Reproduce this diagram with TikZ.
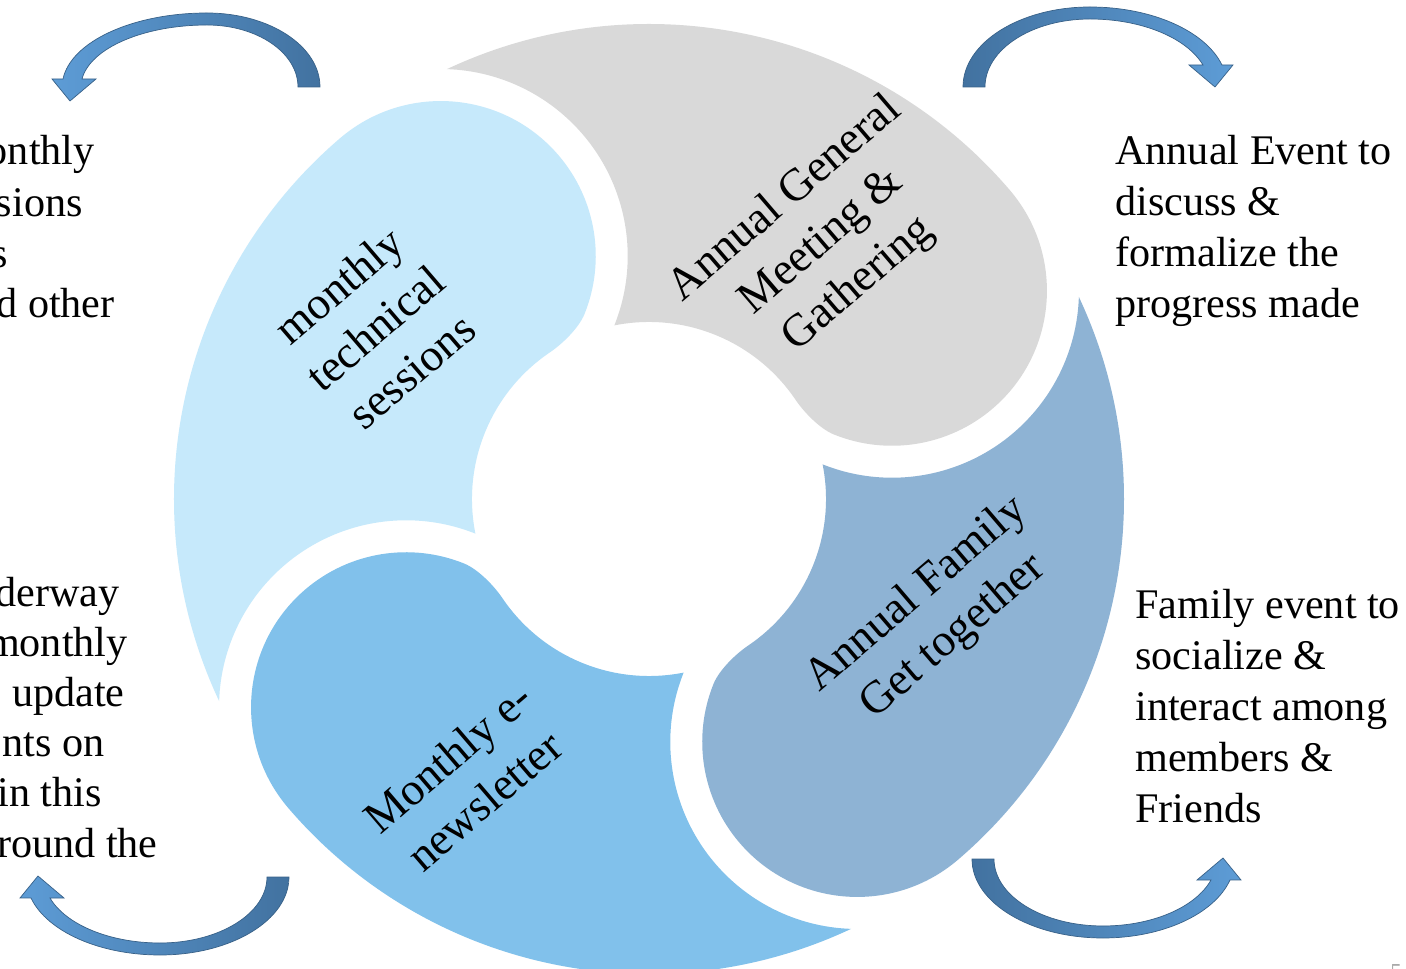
\documentclass[tikz,border=0pt]{standalone}
\usepackage{fontspec}
\setmainfont{Liberation Serif}
\definecolor{pLight}{RGB}{198,233,251}
\definecolor{pGray}{RGB}{217,217,217}
\definecolor{pSteel}{RGB}{142,179,212}
\definecolor{pMid}{RGB}{129,193,235}
\definecolor{armdark}{RGB}{66,114,160}
\definecolor{armlight}{RGB}{93,156,214}
% one petal: tail tip -> outer rim -> head -> (fillet) -> inner hole -> gap to next head
\newcommand{\petalpath}{(205.18:475) arc[start angle=205.18,end angle=130.6,radius=475]
  arc[start angle=130.6,end angle=-22,radius=155]
  .. controls (-70.2,171.0) and (-86.6,155.1) .. (-99.0,146.7)
  arc[start angle=124,end angle=191.27,radius=177]
  arc[start angle=68.22,end angle=178.1,radius=187] -- cycle}
% curved block arrow: #1 peak u, #2 peak height, #3 head base height, #4 tip u
\newcommand{\arrowpath}[4]{(0,0) arc[start angle=180,end angle=90,x radius=#1,y radius=#2]
  arc[start angle=90,end angle={asin(#3/#2)},x radius={(#4+7-#1)/cos(asin(#3/#2))},y radius=#2]
  -- ++(11,0) -- (#4,{#3-22}) -- ({#4-26},#3) -- ({#4-12},#3)
  arc[start angle={asin(#3/(#2-12))},end angle=90,x radius={(#4-12-#1)/cos(asin(#3/(#2-12)))},y radius={#2-12}]
  arc[start angle=90,end angle=180,x radius={#1-22},y radius={#2-12}] -- cycle}
\begin{document}
\begin{tikzpicture}[x=0.02cm,y=0.02cm,
  sidetext/.style={font=\fontsize{24}{29}\selectfont, inner sep=0, align=left, anchor=west},
  frag/.style={font=\fontsize{24}{29}\selectfont, inner sep=0, anchor=base east},
  petaltext/.style={font=\fontsize{26}{32}\selectfont, align=center, rotate=40.6, inner sep=0},
  bentarrow/.style={draw=armdark!85!black, line width=0.4pt}]
\useasboundingbox (-649,-470) rectangle (757,499);
\fill[white] (-649,-470) rectangle (757,499);
% petals
\fill[pLight] \petalpath;
\begin{scope}[rotate=-90]\fill[pGray] \petalpath;\end{scope}
\begin{scope}[rotate=-180]\fill[pSteel] \petalpath;\end{scope}
\begin{scope}[rotate=-270]\fill[pMid] \petalpath;\end{scope}
% petal labels
\node[petaltext] (t1) at (-274,171) {monthly\\technical\\sessions};
\node[petaltext] (t2) at (173,257) {Annual General\\Meeting \&\\Gathering};
\node[petaltext] (t3) at (286,-117) {Annual Family\\Get together};
\node[petaltext] (t4) at (-183,-280) {Monthly e-\\newsletter};
% right texts
\node[sidetext] (r1) at (466,268) {Annual Event to\\discuss \&\\formalize the\\progress made};
\node[sidetext] (r2) at (486,-207) {Family event to\\socialize \&\\interact among\\members \&\\Friends};
% left fragments (cut by the page edge)
\node[frag] (l1) at (-554,334) {onthly};
\node[frag] (l2) at (-566,282) {sions};
\node[frag] (l3) at (-641,231) {s};
\node[frag] (l4) at (-534,181) {d other};
\node[frag] (l5) at (-529,-108) {derway};
\node[frag] (l6) at (-521,-158) {monthly};
\node[frag] (l7) at (-524,-208) {update};
\node[frag] (l8) at (-544,-258) {nts on};
\node[frag] (l9) at (-547,-308) {in this};
\node[frag] (l10) at (-491,-358) {round the};
% page number sliver
\node[font=\fontsize{13}{15}\selectfont, text=gray!70, anchor=north west, inner sep=0] (pg) at (741,-465) {5};
% curved arrows
\begin{scope}[shift={(314,412)}]
  \path[bentarrow, left color=armdark, right color=armlight] \arrowpath{127}{80}{22}{252};
\end{scope}
\begin{scope}[shift={(-329,412)}, xscale=-1]
  \path[bentarrow, left color=armlight, right color=armdark] \arrowpath{113}{74}{8}{250};
\end{scope}
\begin{scope}[shift={(-360,-378)}, xscale=-1, yscale=-1]
  \path[bentarrow, left color=armlight, right color=armdark] \arrowpath{129}{78}{21}{251};
\end{scope}
\begin{scope}[shift={(323,-360)}, yscale=-1]
  \path[bentarrow, left color=armdark, right color=armlight] \arrowpath{131}{79}{21}{251};
\end{scope}
\end{tikzpicture}
\end{document}
